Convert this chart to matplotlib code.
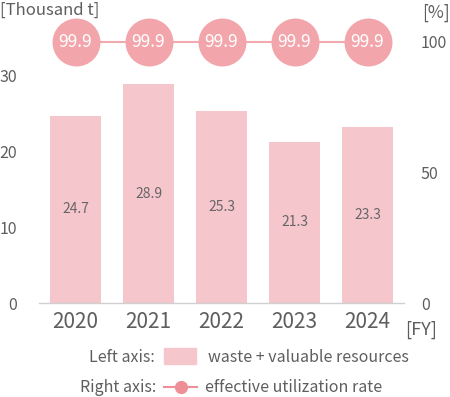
import matplotlib
matplotlib.use("Agg")
import matplotlib.pyplot as plt
from matplotlib.patches import Rectangle
from matplotlib.lines import Line2D

years = ["2020", "2021", "2022", "2023", "2024"]
waste = [24.7, 28.9, 25.3, 21.3, 23.3]          # thousand t, left axis
rate = [99.9, 99.9, 99.9, 99.9, 99.9]           # %, right axis
left_ticks = [0, 10, 20, 30]
right_ticks = [0, 50, 100]

plt.rcParams['font.family'] = ['Noto Sans CJK JP', 'DejaVu Sans']
text_col = "#5e5e5e"
bar_col = "#f6c6cd"
dot_col = "#f2a5ab"
line_col = "#f2a9b0"

W, H = 450, 397
fig = plt.figure(figsize=(W / 100, H / 100), dpi=100)
ax = fig.add_axes([39 / W, (H - 303) / H, (404 - 39) / W, (303 - 38) / H])
ax2 = ax.twinx()

x = list(range(len(years)))
ax.bar(x, waste, width=0.69, color=bar_col, zorder=2)
for xi, v in zip(x, waste):
    ax.text(xi, v / 2, f"{v:.1f}", ha="center", va="center", fontsize=10, color="#666666", zorder=3)

ax.set_xlim(-0.5, 4.5)
ax.set_ylim(0, 35)
ax.set_xticks(x)
ax.set_xticklabels(years, fontsize=15, color=text_col)
ax.set_yticks(left_ticks)
ax.set_yticklabels([str(t) for t in left_ticks], fontsize=11.5, color=text_col)
ax.tick_params(axis="both", length=0)
ax.tick_params(axis="y", pad=16)
ax.tick_params(axis="x", pad=6)

ax2.plot(x, rate, color=line_col, lw=1.5, marker="o", markersize=33.5,
         markerfacecolor=dot_col, markeredgecolor=dot_col, zorder=3, clip_on=False)
for xi, v in zip(x, rate):
    ax2.text(xi, v, f"{v:.1f}", ha="center", va="center", fontsize=12.5, color="white", zorder=4)
ax2.set_ylim(0, 101.4)
ax2.set_yticks(right_ticks)
ax2.set_yticklabels([str(t) for t in right_ticks], fontsize=11.5, color=text_col)
ax2.tick_params(axis="y", length=0, pad=12.2)

for a in (ax, ax2):
    for s in a.spines.values():
        s.set_visible(False)
ax.spines["bottom"].set_visible(True)
ax.spines["bottom"].set_color("#d0d0d0")
ax.spines["bottom"].set_linewidth(1)

# unit labels
fig.text(0 / W, 1 - 10 / H, "[Thousand t]", fontsize=12, color=text_col, ha="left", va="center")
fig.text(450 / W, 1 - 13 / H, "[%]", fontsize=12.5, color=text_col, ha="right", va="center")
fig.text(405 / W, 1 - 330 / H, "[FY]", fontsize=13, color=text_col, ha="left", va="center")

# legend
fig.text(155 / W, 1 - 357 / H, "Left axis:", fontsize=11.5, color=text_col, ha="right", va="center")
fig.patches.append(Rectangle((164 / W, 1 - 364 / H), 32 / W, 16 / H, transform=fig.transFigure,
                             color=bar_col, figure=fig))
fig.text(208 / W, 1 - 357 / H, "waste + valuable resources", fontsize=11.5, color=text_col,
         ha="left", va="center")

fig.text(156 / W, 1 - 388 / H, "Right axis:", fontsize=11.5, color=text_col, ha="right", va="center")
fig.lines.append(Line2D([164 / W, 197 / W], [1 - 387 / H, 1 - 387 / H], transform=fig.transFigure,
                        color="#ee8f97", lw=1.5, figure=fig))
fig.lines.append(Line2D([180.5 / W], [1 - 387 / H], transform=fig.transFigure, marker="o",
                        markersize=8.5, color="#ee8f97", figure=fig))
fig.text(205 / W, 1 - 388 / H, "effective utilization rate", fontsize=11.5, color=text_col,
         ha="left", va="center")

fig.savefig("out.png", dpi=100)
